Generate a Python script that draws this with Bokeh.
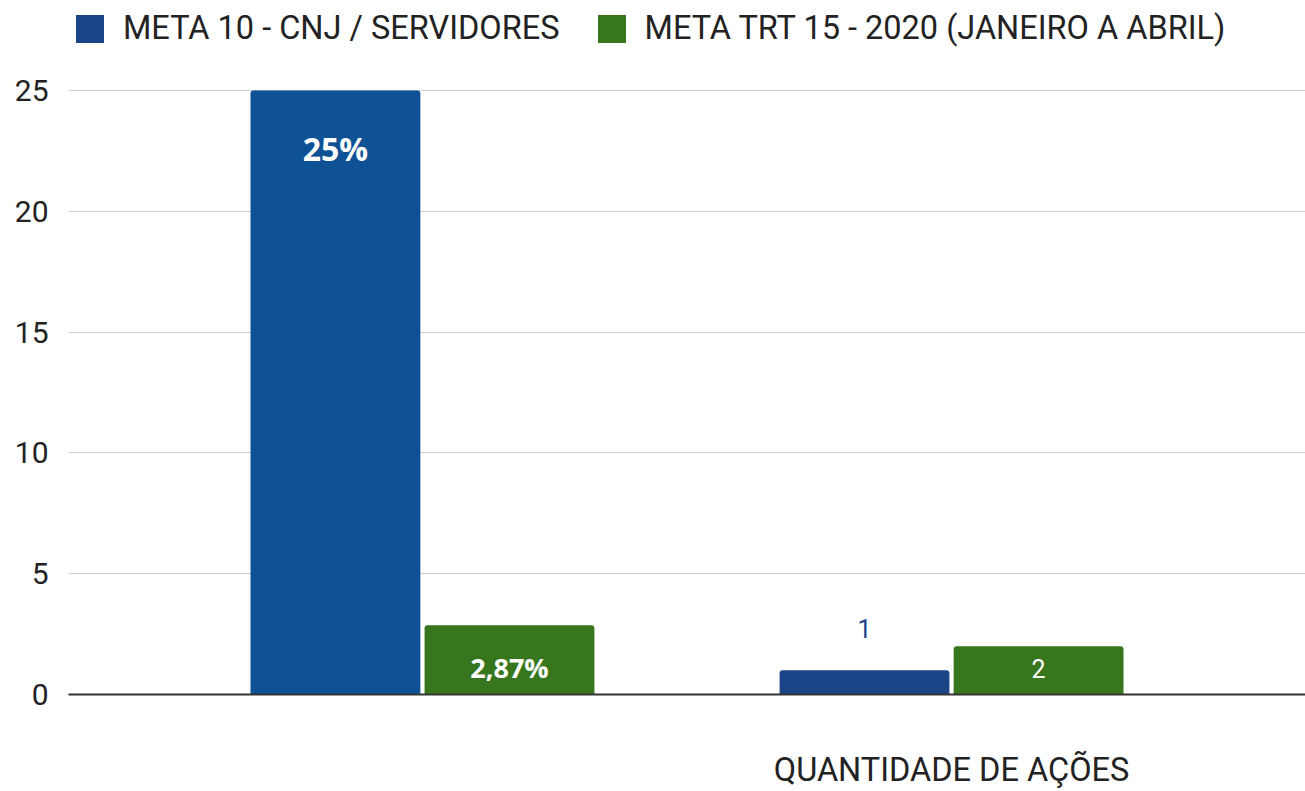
from bokeh.plotting import figure
from bokeh.models import (ColumnDataSource, Range1d, FixedTicker, Legend, LegendItem)
from bokeh.transform import dodge
from bokeh.embed import file_html
from bokeh.resources import INLINE

# ---- data ----
categories = ["", "QUANTIDADE DE AÇÕES"]
series_names = ["META 10 - CNJ / SERVIDORES", "META TRT 15 - 2020 (JANEIRO A ABRIL)"]
meta_cnj = [25, 1]
meta_trt = [2.87, 2]
labels_cnj = ["25%", "1"]
labels_trt = ["2,87%", "2"]
y_ticks = [0, 5, 10, 15, 20, 25]

# ---- styles ----
blue_colors = ["#0e5194", "#1c4587"]
green_colors = ["#38761d", "#38761d"]
cnj_label_colors = ["#ffffff", "#1c4587"]
cnj_label_offsets = [58, -42]
cnj_label_sizes = ["32px", "25px"]
cnj_label_fonts = ["Open Sans", "Roboto"]
cnj_label_weights = ["bold", "normal"]
trt_label_offsets = [42, 22]
trt_label_sizes = ["27px", "25px"]
trt_label_fonts = ["Open Sans", "Roboto"]
trt_label_weights = ["bold", "normal"]

xs = list(range(len(categories)))
src = ColumnDataSource(dict(
    x=xs, cnj=meta_cnj, trt=meta_trt,
    lab_cnj=labels_cnj, lab_trt=labels_trt,
    bc=blue_colors, gc=green_colors,
    lc=cnj_label_colors, lo_c=cnj_label_offsets, ls_c=cnj_label_sizes,
    lf_c=cnj_label_fonts, lw_c=cnj_label_weights,
    lo_t=trt_label_offsets, ls_t=trt_label_sizes,
    lf_t=trt_label_fonts, lw_t=trt_label_weights,
))

W, H = 1305, 791
frame_h = 694           # frame spans the page from the top down to the baseline
top_px = 90             # pixel row of the top gridline (value 25)
y_end = max(y_ticks) * frame_h / (frame_h - top_px)

p = figure(width=W, height=H, output_backend="svg", toolbar_location=None,
           x_range=Range1d(-0.669, 1.669), y_range=Range1d(0, y_end),
           min_border_left=68, min_border_right=0, min_border_top=0,
           min_border_bottom=H - frame_h)
p.outline_line_color = None
p.background_fill_color = "white"
p.border_fill_color = "white"

off = 0.1645
bw = 0.321
r1 = p.vbar(x=dodge("x", -off), top="cnj", width=bw, source=src,
            fill_color="bc", line_color=None, border_radius=(3, 3, 0, 0))
r2 = p.vbar(x=dodge("x", off), top="trt", width=bw, source=src,
            fill_color="gc", line_color=None, border_radius=(3, 3, 0, 0))

p.text(x=dodge("x", -off), y="cnj", text="lab_cnj", source=src,
       text_color="lc", y_offset="lo_c", text_font_size="ls_c",
       text_font="lf_c", text_font_style="lw_c",
       text_align="center", text_baseline="middle")
p.text(x=dodge("x", off), y="trt", text="lab_trt", source=src,
       text_color="white", y_offset="lo_t", text_font_size="ls_t",
       text_font="lf_t", text_font_style="lw_t",
       text_align="center", text_baseline="middle")

# axes
p.yaxis.ticker = FixedTicker(ticks=y_ticks)
p.yaxis.axis_line_color = None
p.yaxis.major_tick_line_color = None
p.yaxis.minor_tick_line_color = None
p.yaxis.major_label_text_font = "Roboto"
p.yaxis.major_label_text_font_size = "30px"
p.yaxis.major_label_text_color = "#222222"
p.yaxis.major_label_standoff = 14

p.xaxis.ticker = FixedTicker(ticks=xs)
p.xaxis.major_label_overrides = {i: c for i, c in zip(xs, categories)}
p.xaxis.axis_line_color = "#333333"
p.xaxis.axis_line_width = 2
p.xaxis.major_tick_line_color = None
p.xaxis.minor_tick_line_color = None
p.xaxis.major_label_text_font = "Roboto"
p.xaxis.major_label_text_font_size = "32.5px"
p.xaxis.major_label_text_color = "#222222"
p.xaxis.major_label_standoff = 50

p.xgrid.grid_line_color = None
p.ygrid.grid_line_color = "#cccccc"
p.ygrid.grid_line_width = 1

legend = Legend(items=[
    LegendItem(label=series_names[0], renderers=[r1], index=1),
    LegendItem(label=series_names[1], renderers=[r2], index=1),
], orientation="horizontal", location=(4, 647),
    glyph_width=35, glyph_height=35, label_height=35,
    label_standoff=16, spacing=34, padding=0, margin=0,
    label_text_font="Roboto", label_text_font_size="32.5px",
    label_text_color="#222222", label_text_baseline="middle",
    background_fill_alpha=0, border_line_color=None)
p.add_layout(legend, "center")

open("out.html", "w").write(file_html(p, INLINE))
